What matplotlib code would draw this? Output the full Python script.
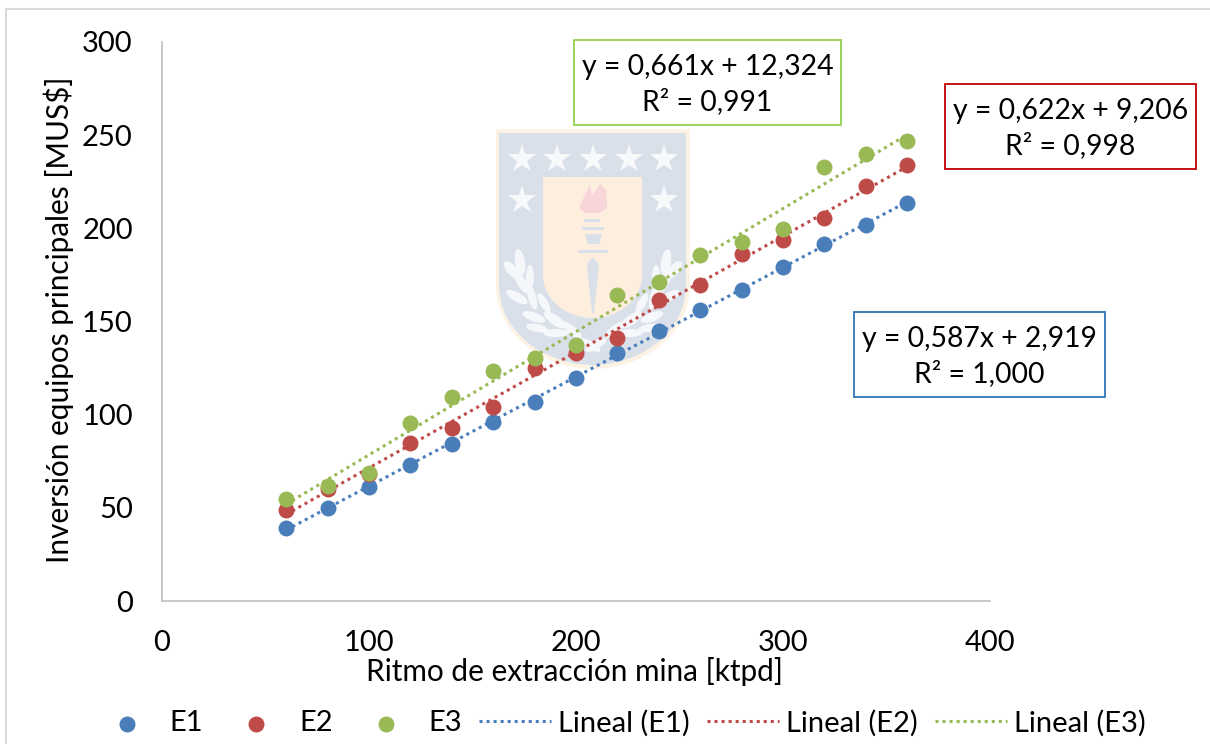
import matplotlib
matplotlib.use("Agg")
import matplotlib.pyplot as plt
from matplotlib.patches import Rectangle, Polygon, Ellipse, PathPatch
from matplotlib.path import Path
from matplotlib.lines import Line2D
import numpy as np

plt.rcParams['font.family'] = ['Lato', 'DejaVu Sans']

x = [60, 80, 100, 120, 140, 160, 180, 200, 220, 240, 260, 280, 300, 320, 340, 360]
e1 = [39, 50, 61, 73, 84, 96, 107, 119.5, 133, 145, 156, 167, 179, 191.5, 202, 213.5]
e2 = [49, 60, 68, 85, 93, 104, 125, 133, 141, 161.5, 169.5, 186, 194, 205.5, 222.5, 234]
e3 = [55, 61.5, 68.5, 95.5, 109.5, 123.5, 130.5, 137.5, 164, 171, 185.5, 192.5, 199.5, 233, 240, 247]
fit1 = (0.587, 2.919)
fit2 = (0.622, 9.206)
fit3 = (0.661, 12.324)
names = ['E1', 'E2', 'E3']
colors = ['#4a7ebb', '#be4b48', '#98b954']
box_text = ['y = 0,587x + 2,919\nR² = 1,000', 'y = 0,622x + 9,206\nR² = 0,998', 'y = 0,661x + 12,324\nR² = 0,991']
box_edges = ['#2e75b6', '#c00000', '#92d050']
xticks = [0, 100, 200, 300, 400]
yticks = [0, 50, 100, 150, 200, 250, 300]

W, H = 1210, 744
FS = 21
fig = plt.figure(figsize=(W/100, H/100), dpi=100)

# watermark layer in pixel coordinates (decorative crest behind the chart)
wm = fig.add_axes([0, 0, 1, 1], zorder=0)
wm.set_xlim(0, W); wm.set_ylim(H, 0); wm.axis('off')
def crest(l, r, top, side, tipx, tipy, **kw):
    verts = [(l, top), (r, top), (r, side),
             (r, side+(tipy-side)*0.6), (tipx+(r-tipx)*0.5, tipy), (tipx, tipy),
             (tipx-(tipx-l)*0.5, tipy), (l, side+(tipy-side)*0.6), (l, side),
             (l, top)]
    codes = [Path.MOVETO, Path.LINETO, Path.LINETO, Path.CURVE4, Path.CURVE4, Path.CURVE4,
             Path.CURVE4, Path.CURVE4, Path.CURVE4, Path.CLOSEPOLY]
    wm.add_patch(PathPatch(Path(verts, codes), **kw))
crest(496, 690, 129, 285, 593, 369, fc='#fdf3e4', ec='none')
crest(499, 686, 133, 285, 593, 365, fc='#d9e0ea', ec='none')
crest(543, 642, 177, 275, 593, 318, fc='#fdeedd', ec='none')
for u in [522, 557, 593, 629, 664]:
    wm.plot([u], [159], marker='*', ms=21, color='#f8f9fb', mew=0)
for u in [522, 664]:
    wm.plot([u], [200], marker='*', ms=21, color='#f8f9fb', mew=0)
wm.add_patch(Polygon([(579, 208), (585, 195), (590, 184), (592, 196), (600, 184), (606, 190), (607, 208), (600, 213), (585, 213)],
                     closed=True, fc='#f8d5d8', ec='none'))
for yy, a, b in [(220, 584, 600), (228, 582, 604), (251, 578, 608)]:
    wm.add_patch(Rectangle((a, yy-1.5), b-a, 3, fc='#d9e0ea', ec='none'))
wm.add_patch(Polygon([(585, 234), (602, 234), (599, 244), (588, 244)], closed=True, fc='#d9e0ea', ec='none'))
wm.add_patch(Polygon([(587, 264), (593, 257), (599, 264), (597, 285), (594, 313), (592, 313), (589, 285)],
                     closed=True, fc='#d9e0ea', ec='none'))
leaves = [(520, 262, 10, 26, 10), (512, 270, 10, 22, 40), (530, 277, 8, 24, 0), (522, 283, 9, 24, 30),
          (517, 297, 9, 24, 60), (532, 297, 8, 26, 15), (544, 303, 8, 22, 30), (534, 317, 9, 24, 70),
          (555, 320, 10, 26, 55), (537, 328, 8, 22, 80), (556, 333, 8, 26, 90), (572, 330, 8, 24, 50),
          (590, 345, 8, 24, 60)]
for cx, cy, a, b, ang in leaves:
    wm.add_patch(Ellipse((cx, cy), a, b, angle=-ang, fc='#f5f7fa', ec='none'))
    wm.add_patch(Ellipse((2*593-cx, cy), a, b, angle=ang, fc='#f5f7fa', ec='none'))

ax = fig.add_axes([162/W, 1-601/H, (990-162)/W, (601-42)/H], zorder=1)
ax.patch.set_alpha(0)
ax.set_xlim(0, 400)
ax.set_ylim(0, 300)

series = [e1, e2, e3]
fits = [fit1, fit2, fit3]
for s, col, nm in zip(series, colors, names):
    ax.scatter(x, s, s=132, color=col, zorder=3, label=nm, linewidths=0)
for s, f, col, nm in zip(series, fits, colors, names):
    xs = np.array([x[0], x[-1]])
    ax.plot(xs, f[0]*xs + f[1], ls=(0, (1, 1.3)), lw=2.2, color=col, zorder=2, label=f'Lineal ({nm})')

for sp in ['top', 'right']:
    ax.spines[sp].set_visible(False)
for sp in ['left', 'bottom']:
    ax.spines[sp].set_color('#bfbfbf')
    ax.spines[sp].set_linewidth(1.2)
ax.set_xticks(xticks)
ax.set_yticks(yticks)
ax.tick_params(length=0, labelsize=FS, colors='black')
ax.tick_params(axis='x', pad=21)
ax.tick_params(axis='y', pad=21)

fig.text(575/W, 1-671/H, 'Ritmo de extracción mina [ktpd]', ha='center', va='center', fontsize=21.4)
fig.text(59/W, 1-320/H, 'Inversión equipos principales [MUS$]', rotation=90, ha='center', va='center', fontsize=21.4)

boxes = [(854, 312, 1105, 397), (945, 84, 1196, 169), (574, 40, 841, 125)]
for b, t, e in zip(boxes, box_text, box_edges):
    fig.add_artist(Rectangle((b[0]/W, 1-b[3]/H), (b[2]-b[0])/W, (b[3]-b[1])/H, transform=fig.transFigure,
                             fc='white', ec=e, lw=1.3, zorder=5))
    fig.text((b[0]+b[2])/2/W, 1-((b[1]+b[3])/2+2)/H, t, ha='center', va='center', fontsize=20.4,
             linespacing=1.36, zorder=6)

h, lab = ax.get_legend_handles_labels()
order = [lab.index(n) for n in ['E1', 'E2', 'E3', 'Lineal (E1)', 'Lineal (E2)', 'Lineal (E3)']]
fig.legend([h[i] for i in order], [lab[i] for i in order], ncol=6, loc='center',
           bbox_to_anchor=(618/W, 1-723/H), frameon=False, fontsize=FS, columnspacing=0.58,
           handlelength=2.47, handletextpad=0.24, scatterpoints=1, borderpad=0, borderaxespad=0)

fig.add_artist(Line2D([6/W, 6/W], [0, 1-9/H], transform=fig.transFigure, color='#d9d9d9', lw=1.5))
fig.add_artist(Line2D([6/W, 1], [1-9/H, 1-9/H], transform=fig.transFigure, color='#d9d9d9', lw=1.5))
fig.savefig('out.png', dpi=100)
